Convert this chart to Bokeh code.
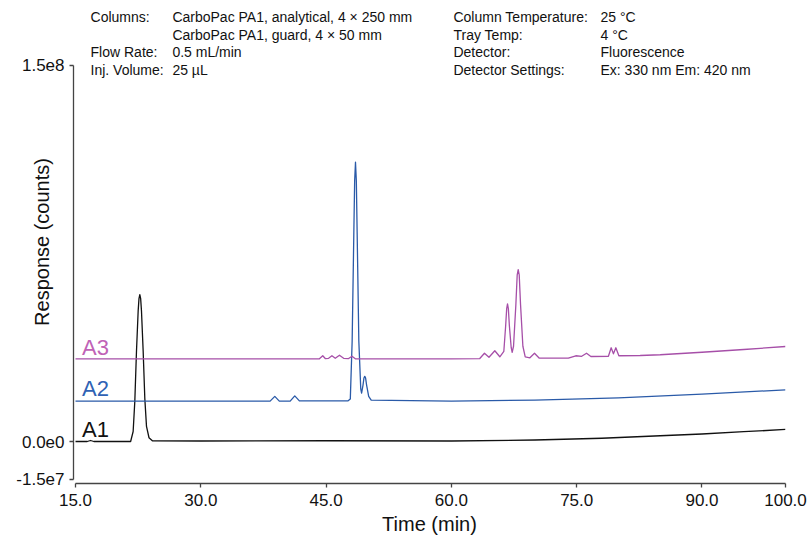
import math
from bokeh.plotting import figure
from bokeh.models import ColumnDataSource, FixedTicker, CustomJSTickFormatter, PrintfTickFormatter, Label
from bokeh.embed import file_html
from bokeh.resources import INLINE

# ---------------- data ----------------
a1_time = [15.0, 16.4, 16.8, 17.2, 21.6, 21.9, 22.1, 22.3, 22.5, 22.6, 22.7, 22.8, 22.9, 23.1, 23.3, 23.5,
           23.8, 24.2, 30.0, 45.0, 60.0, 70.0, 78.0, 85.0, 90.0, 95.0, 100.0]
a1_resp = [0.0, 0.0, 0.4e6, 0.0, 0.0, 4e6, 16e6, 36e6, 52e6, 57.0e6, 58.6e6, 57.0e6, 52e6, 36e6, 17e6, 6e6,
           1.5e6, 0.3e6, 0.2e6, 0.3e6, 0.2e6, 0.6e6, 1.3e6, 2.3e6, 3.0e6, 3.9e6, 4.8e6]

a2_time = [15.0, 38.3, 38.86, 39.4, 40.7, 41.25, 41.8, 47.6, 47.9, 48.12, 48.32, 48.42, 48.52, 48.62,
           48.72, 48.92, 49.15, 49.25, 49.42, 49.53, 49.63, 49.73, 49.85, 50.1, 50.4, 60.0, 70.0, 80.0,
           90.0, 100.0]
a2_resp = [16.1e6, 16.1e6, 18.0e6, 16.1e6, 16.1e6, 18.2e6, 16.2e6, 16.2e6, 17.0e6, 40e6, 83e6, 104e6,
           111.4e6, 104e6, 83e6, 40e6, 21e6, 19.3e6, 22.5e6, 25.3e6, 26.0e6, 25.3e6, 22.5e6, 18.0e6,
           16.5e6, 16.1e6, 16.5e6, 17.4e6, 18.9e6, 20.6e6]

a3_time = [15.0, 44.2, 44.6, 44.9, 45.3, 45.7, 46.1, 46.6, 47.1, 47.7, 48.1, 48.5, 60.0, 63.4, 63.96,
           64.5, 65.2, 65.8, 66.28, 66.5, 66.62, 66.72, 66.82, 66.94, 67.16, 67.28, 67.44, 67.72, 67.88,
           68.0, 68.12, 68.28, 68.56, 68.84, 69.4, 69.95, 70.5, 74.0, 74.9, 75.6, 76.18, 76.7, 78.8,
           79.13, 79.4, 79.69, 80.05, 82.6, 85.0, 90.0, 95.0, 100.0]
a3_resp = [33.0e6, 33.0e6, 34.2e6, 33.1e6, 33.2e6, 34.2e6, 33.2e6, 34.4e6, 33.2e6, 33.1e6, 34.0e6, 33.0e6,
           33.0e6, 33.1e6, 35.2e6, 33.6e6, 36.2e6, 33.8e6, 36.0e6, 46.3e6, 53.0e6, 54.9e6, 53.0e6, 46.3e6,
           37.5e6, 35.6e6, 38.0e6, 54.6e6, 66.5e6, 68.6e6, 66.5e6, 54.6e6, 38.0e6, 33.8e6, 33.4e6, 35.2e6,
           33.3e6, 33.3e6, 34.2e6, 34.0e6, 35.2e6, 33.9e6, 34.0e6, 37.4e6, 35.0e6, 37.4e6, 34.2e6, 34.3e6,
           34.6e6, 35.6e6, 36.7e6, 37.9e6]

trace_names = ["A1", "A2", "A3"]
x_ticks = [15.0, 30.0, 45.0, 60.0, 75.0, 90.0, 100.0]
y_ticks = [-1.5e7, 0.0, 1.5e8]

header_left_keys = ["Columns:", "", "Flow Rate:", "Inj. Volume:"]
header_left_vals = ["CarboPac PA1, analytical, 4 × 250 mm", "CarboPac PA1, guard, 4 × 50 mm",
                    "0.5 mL/min", "25 µL"]
header_right_keys = ["Column Temperature:", "Tray Temp:", "Detector:", "Detector Settings:"]
header_right_vals = ["25 °C", "4 °C", "Fluorescence", "Ex: 330 nm Em: 420 nm"]

# ---------------- styling ----------------
FONT = "Liberation Sans"
line_colors = ["#111111", "#2a5aa8", "#a64fa8"]
label_colors = ["#111111", "#2f62b4", "#c062b6"]
AXIS = "#444444"

# frame extends to the top of the canvas so the header block sits inside it
p = figure(width=812, height=540, output_backend="svg", toolbar_location=None,
           x_range=(14.76, 100.0), y_range=(-1.6755e7, 1.7593e8))
p.min_border_left = 73
p.min_border_right = 27
p.min_border_top = 0
p.min_border_bottom = 57
p.outline_line_color = None
p.xgrid.visible = False
p.ygrid.visible = False
p.background_fill_color = "white"
p.border_fill_color = "white"

for t, r, c in zip([a1_time, a2_time, a3_time], [a1_resp, a2_resp, a3_resp], line_colors):
    src = ColumnDataSource(dict(t=t, r=r))
    p.line("t", "r", source=src, line_color=c, line_width=1.3, line_join="round")

for ax in (p.xaxis[0], p.yaxis[0]):
    ax.axis_line_color = AXIS
    ax.axis_line_width = 1.3
    ax.major_tick_line_color = AXIS
    ax.major_tick_line_width = 1.3
    ax.major_tick_out = 4
    ax.major_tick_in = 0
    ax.minor_tick_line_color = None
    ax.major_label_text_font = FONT
    ax.major_label_text_font_size = "17px"
    ax.major_label_text_color = "#111111"
    ax.axis_label_text_font = FONT
    ax.axis_label_text_font_size = "20px"
    ax.axis_label_text_font_style = "normal"
    ax.axis_label_text_color = "#111111"

xa = p.xaxis[0]
xa.ticker = FixedTicker(ticks=x_ticks)
xa.formatter = PrintfTickFormatter(format="%.1f")
xa.bounds = (15.0, 100.0)
xa.major_label_standoff = 6
xa.axis_label = "Time (min)"
xa.axis_label_standoff = 4

ya = p.yaxis[0]
ya.ticker = FixedTicker(ticks=y_ticks)
ya.formatter = CustomJSTickFormatter(code="return tick.toExponential(1).replace('+','');")
ya.bounds = (-1.5e7, 1.5e8)
ya.major_label_standoff = 5
ya.axis_label = "Response (counts)"
ya.axis_label_standoff = -40

# trace labels (vertical centres)
lab_y = [4.6e6, 21.1e6, 37.5e6]
for name, yv, c in zip(trace_names, lab_y, label_colors):
    p.add_layout(Label(x=15.78, y=yv, text=name, text_align="left", text_baseline="middle",
                       text_font=FONT, text_font_size="22px", text_color=c))

# header block (vertical centres)
row_y = [169.15e6, 162.26e6, 155.35e6, 148.4e6]
for ky, vl, yv in zip(header_left_keys, header_left_vals, row_y):
    if ky:
        p.add_layout(Label(x=16.8, y=yv, text=ky, text_baseline="middle", text_font=FONT,
                           text_font_size="14px", text_color="#111111"))
    p.add_layout(Label(x=26.6, y=yv, text=vl, text_baseline="middle", text_font=FONT,
                       text_font_size="14px", text_color="#111111"))
for ky, vl, yv in zip(header_right_keys, header_right_vals, row_y):
    p.add_layout(Label(x=60.25, y=yv, text=ky, text_baseline="middle", text_font=FONT,
                       text_font_size="14px", text_color="#111111"))
    p.add_layout(Label(x=77.85, y=yv, text=vl, text_baseline="middle", text_font=FONT,
                       text_font_size="14px", text_color="#111111"))

open("out.html", "w").write(file_html(p, INLINE))
